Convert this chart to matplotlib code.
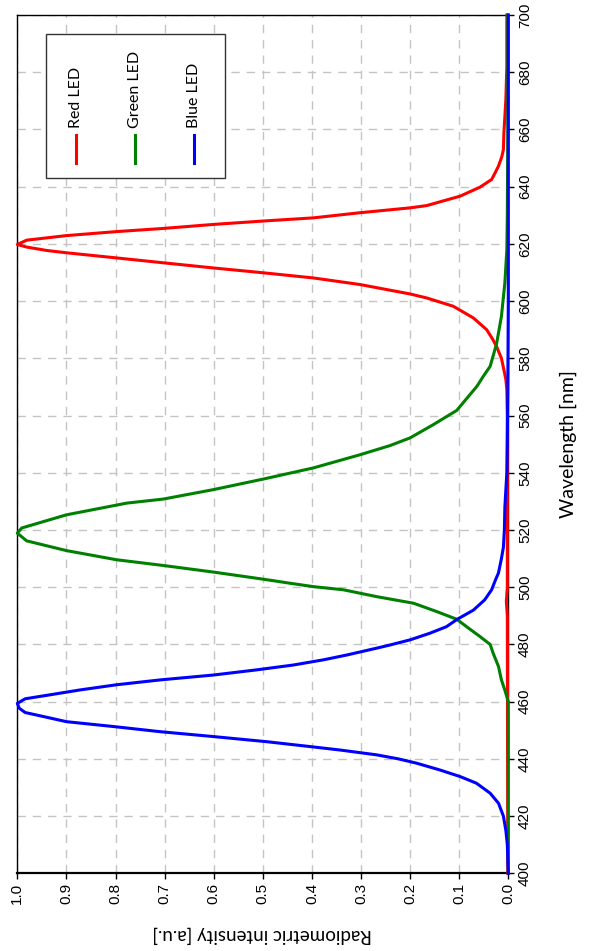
import matplotlib
matplotlib.use("Agg")
import matplotlib.pyplot as plt
from matplotlib.lines import Line2D
from matplotlib.patches import Rectangle

# ---------------- data ----------------
series_names = ["Red LED", "Green LED", "Blue LED"]
series_colors = ["#ff0000", "#008000", "#0000ff"]

red_wl = [400, 490, 495, 500, 560, 569, 572.6, 576, 580, 584.2, 587, 590, 594.1, 598.2,
          601.1, 602.5, 605.8, 608.1, 609.9, 611.6, 613.4, 615.1, 616.9, 617.7, 618.9,
          619.8, 621.3, 622.9, 624.3, 625.4, 626.8, 628, 629.1, 630.9, 632.6, 633.4,
          636.7, 639.8, 642.5, 644.8, 647.2, 650.6, 653, 658.7, 670.4, 682, 700]
red_int = [0.001, 0.002, 0.004, 0.002, 0.002, 0.003, 0.005, 0.009, 0.014, 0.024, 0.033,
           0.044, 0.071, 0.112, 0.166, 0.2, 0.302, 0.397, 0.499, 0.601, 0.703, 0.798,
           0.9, 0.94, 0.981, 1.0, 0.981, 0.9, 0.798, 0.703, 0.601, 0.499, 0.397, 0.302,
           0.2, 0.166, 0.098, 0.058, 0.034, 0.027, 0.02, 0.013, 0.01, 0.009, 0.005,
           0.003, 0.003]

green_wl = [400, 460, 464, 467.6, 472.3, 477, 480, 482.8, 486.2, 488.8, 491.5, 494.4,
            496.7, 497.9, 499.1, 500.2, 501.4, 502.8, 505.3, 507.6, 509.6, 512.8, 516.2,
            518.9, 520.7, 525.3, 529.4, 530.8, 534.1, 537.8, 541.7, 546.3, 549.5, 552.2,
            556.8, 561.8, 565.5, 570.2, 573.7, 577.2, 585, 594.7, 606.4, 618, 630, 660, 700]
green_int = [0.0, 0.0, 0.007, 0.014, 0.02, 0.031, 0.037, 0.058, 0.085, 0.105, 0.146,
             0.193, 0.268, 0.302, 0.336, 0.397, 0.445, 0.499, 0.601, 0.703, 0.798, 0.9,
             0.981, 1.0, 0.991, 0.9, 0.777, 0.703, 0.601, 0.499, 0.397, 0.302, 0.241,
             0.2, 0.153, 0.105, 0.087, 0.064, 0.051, 0.037, 0.024, 0.014, 0.007, 0.003,
             0.002, 0.001, 0.001]

blue_wl = [400, 405, 410, 415, 420, 424.5, 428, 431.5, 433.8, 436.1, 438.5, 440, 441.4,
           443.1, 444.3, 446, 447.8, 449.5, 451.3, 453, 454.8, 456.2, 457.7, 459.4, 461,
           462.4, 464.1, 465.9, 467.6, 469.3, 471.1, 472.8, 474.6, 476.3, 478.7, 479.8,
           481.6, 483.9, 486.2, 488.8, 492, 495.6, 499.1, 502.6, 505, 510, 514, 520, 528,
           540, 552, 570, 600, 650, 700]
blue_int = [0.0, 0.001, 0.002, 0.005, 0.01, 0.02, 0.037, 0.065, 0.098, 0.139, 0.187,
            0.224, 0.268, 0.343, 0.404, 0.492, 0.601, 0.709, 0.804, 0.9, 0.947, 0.984,
            0.996, 1.0, 0.984, 0.933, 0.872, 0.798, 0.709, 0.601, 0.513, 0.438, 0.377,
            0.329, 0.268, 0.241, 0.2, 0.16, 0.126, 0.104, 0.071, 0.048, 0.034, 0.026,
            0.02, 0.014, 0.01, 0.008, 0.007, 0.003, 0.002, 0.001, 0.0, 0.0, 0.0]

wl_ticks = list(range(400, 701, 20))
int_ticks = [0.0, 0.1, 0.2, 0.3, 0.4, 0.5, 0.6, 0.7, 0.8, 0.9, 1.0]
int_tick_labels = ["0.0", "0.1", "0.2", "0.3", "0.4", "0.5", "0.6", "0.7", "0.8", "0.9", "1.0"]

x_label = "Radiometric intensity [a.u.]"
y_label = "Wavelength [nm]"

# ---------------- figure ----------------
plt.rcParams['lines.scale_dashes'] = False
label_font = ["Lato", "DejaVu Sans"]
tick_font = ["Liberation Sans", "DejaVu Sans"]

fig = plt.figure(figsize=(5.89, 9.51), dpi=100)
ax = fig.add_axes([0.0294, 0.0817, 0.8336, 0.9025])

wls = [red_wl, green_wl, blue_wl]
ints = [red_int, green_int, blue_int]
for wl, it, col in zip(wls, ints, series_colors):
    ax.plot(it, wl, color=col, lw=2.2, clip_on=False, zorder=3,
            solid_joinstyle='round')

ax.set_xlim(1.0, 0.0)
ax.set_ylim(400, 700)
ax.yaxis.tick_right()
ax.set_yticks(wl_ticks)
ax.set_yticklabels([str(t) for t in wl_ticks], rotation=90, va='center',
                   family=tick_font, fontsize=11)
ax.set_xticks(int_ticks)
ax.set_xticklabels(int_tick_labels, rotation=90, family=tick_font, fontsize=11)
ax.tick_params(axis='both', direction='out', length=4, width=1, color='black', pad=3)

ax.grid(True, color='#c4c4c4', lw=1.0, linestyle=(0, (6, 5)), zorder=0)
ax.set_axisbelow(True)
for s in ax.spines.values():
    s.set_color('black')
    s.set_linewidth(1.0)
ax.spines['bottom'].set_linewidth(1.6)

# legend drawn in rotated orientation
leg_box = Rectangle((0.058, 0.8104), 0.365, 0.1671, transform=ax.transAxes,
                    facecolor='white', edgecolor='#333333', lw=1.0, zorder=4)
ax.add_patch(leg_box)
leg_x = [0.119, 0.2397, 0.36]
for name, col, lx in zip(series_names, series_colors, leg_x):
    ax.add_line(Line2D([lx, lx], [0.8279, 0.8602], transform=ax.transAxes,
                       color=col, lw=2.2, zorder=5))
    ax.text(lx, 0.8683, name, transform=ax.transAxes, rotation=90, ha='center',
            va='bottom', family=label_font, fontsize=11.5, zorder=5)

fig.text(568 / 589, 0.533, y_label, rotation=90, ha='center', va='center',
         family=label_font, fontsize=14)
fig.text(262 / 589, 1 - 935 / 951, x_label, rotation=180, ha='center', va='center',
         family=label_font, fontsize=13.5)

fig.savefig("out.png", dpi=100)
